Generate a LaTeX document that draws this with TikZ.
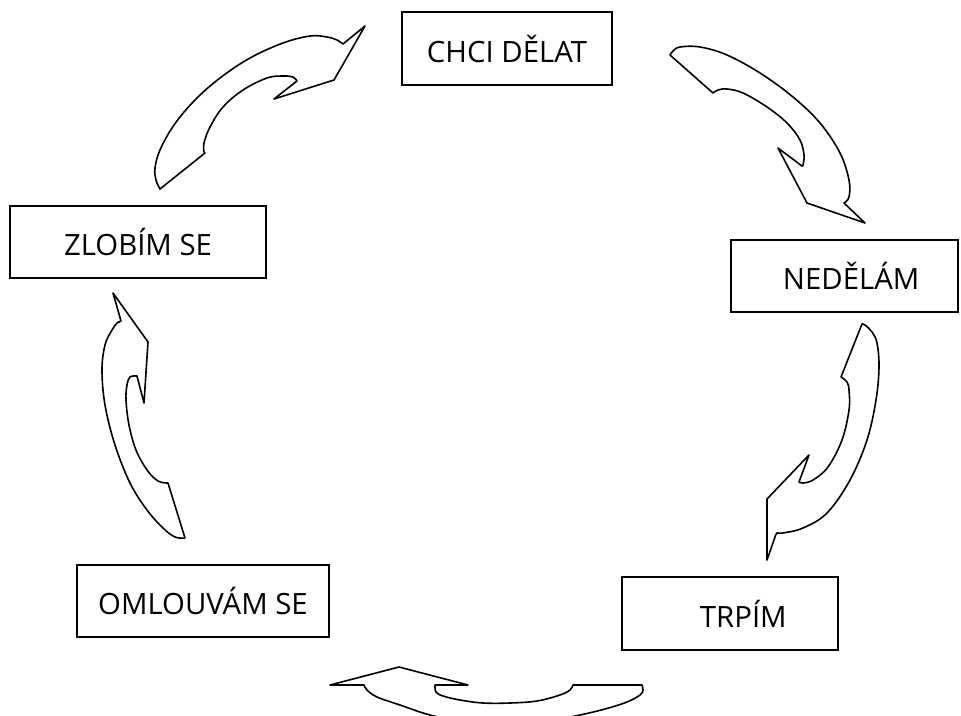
\documentclass[tikz,border=0pt]{standalone}
\usepackage{fontspec}
\setmainfont{Open Sans}
\begin{document}
\begin{tikzpicture}[x=0.75pt,y=-0.75pt,
  box/.style={draw=black,line width=1.4pt,fill=white,inner sep=0pt,font=\fontsize{22}{26}\selectfont},
  blk/.style={draw=black,line width=1.2pt,fill=white,line join=round}]
\useasboundingbox (0,0) rectangle (961,715);
\clip (0,0) rectangle (961,715);
% boxes
\node[box,minimum width=210*0.75pt,minimum height=73*0.75pt] (chci) at (507,48.5) {CHCI DĚLAT};
\node[box,minimum width=256*0.75pt,minimum height=72*0.75pt] (zlobim) at (138,242) {ZLOBÍM SE};
\node[box,minimum width=227*0.75pt,minimum height=72*0.75pt] (nedelam) at (844.5,276) {\hspace*{10pt}NEDĚLÁM};
\node[box,minimum width=252*0.75pt,minimum height=72*0.75pt] (omlouvam) at (203,601) {OMLOUVÁM SE};
\node[box,minimum width=216*0.75pt,minimum height=73*0.75pt] (trpim) at (730,613.5) {\hspace*{20pt}TRPÍM};
% arrow: ZLOBIM -> CHCI
\draw[blk] (160,189) -- plot[smooth,tension=0.6] coordinates {(160,189) (156,180) (155,168) (160,150) (174,125) (195,100) (220,78) (250,58) (283,43) (310,36) (327,37) (337,40) (343,44)}
  -- (365,26) -- (334,80) -- (274,99) -- (297,81)
  -- plot[smooth,tension=0.6] coordinates {(297,81) (293,77) (283,76) (267,78) (243,90) (223,107) (210,127) (204,143) (204,152)}
  -- (205,153) -- cycle;
% arrow: CHCI -> NEDELAM
\draw[blk] (670,55) -- plot[smooth,tension=0.6] coordinates {(670,55) (673,51) (680,47) (700,47) (727,55) (760,73) (793,97) (820,123) (840,153) (849,180) (849,197) (844,203)}
  -- (865,223) -- (807,203) -- (778,148) -- (802,166)
  -- plot[smooth,tension=0.6] coordinates {(802,166) (803,165) (804,155) (800,140) (787,123) (767,107) (743,93) (727,89) (718,90) (713,93)}
  -- cycle;
% arrow: NEDELAM -> TRPIM
\draw[blk] (862,324) -- plot[smooth,tension=0.6] coordinates {(862,324) (865,325) (872,332) (877,343) (879,367) (876,400) (867,440) (850,480) (827,513) (803,528) (783,533) (777,533) (775,537)}
  -- (767,560) -- (767,499) -- (809,455) -- (799,482)
  -- plot[smooth,tension=0.6] coordinates {(799,482) (803,483) (813,480) (828,467) (842,440) (849,410) (849,390) (847,382) (841,377)}
  -- cycle;
% arrow: TRPIM -> OMLOUVAM
\draw[blk] (399,667) -- (468,685) -- (435,685)
  -- plot[smooth,tension=0.6] coordinates {(435,685) (436,692) (443,696) (460,700) (483,703) (510,703) (537,701) (560,695) (570,690) (573,685)}
  -- (642,685)
  -- plot[smooth,tension=0.6] coordinates {(642,685) (643,690) (640,695) (627,702) (605,709) (580,715) (545,722) (505,725) (465,722) (430,715) (400,705) (377,697) (367,690) (364,685)}
  -- (330,685) -- cycle;
% arrow: OMLOUVAM -> ZLOBIM
\draw[blk] (113,293) -- (148,342) -- (144,403) -- (137,376)
  -- plot[smooth,tension=0.6] coordinates {(137,376) (130,377) (127,385) (126,400) (129,425) (136,450) (147,470) (158,481) (168,483)}
  -- (185,538)
  -- plot[smooth,tension=0.6] coordinates {(185,538) (175,537) (163,528) (147,510) (130,483) (115,445) (105,405) (102,370) (105,345) (112,330) (117,323)}
  -- (121,321) -- cycle;
\end{tikzpicture}
\end{document}
